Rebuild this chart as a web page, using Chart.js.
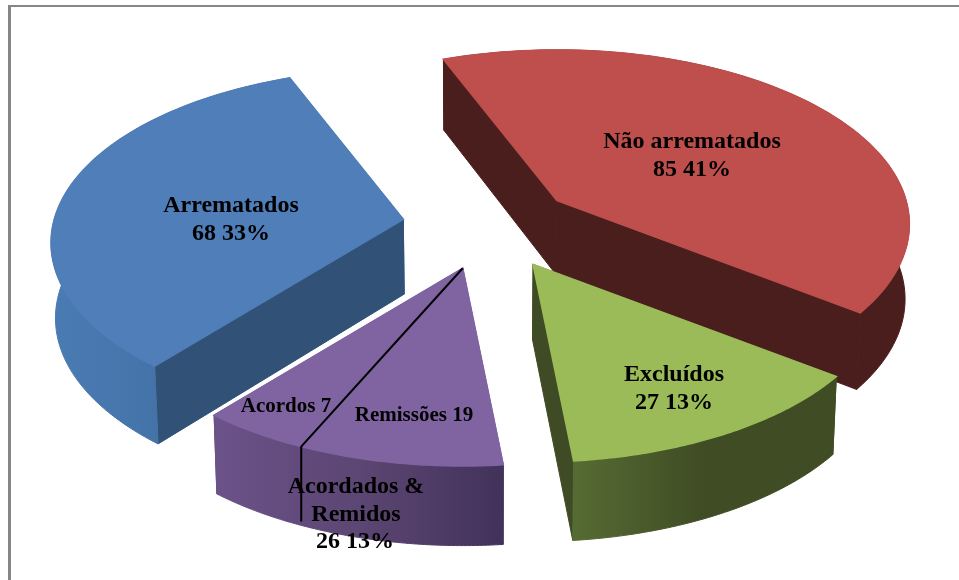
<!DOCTYPE html>
<html>
<head>
<meta charset="utf-8">
<style>
  html, body { margin: 0; padding: 0; background: #fff; }
  canvas { display: block; }
</style>
<script src="https://cdn.jsdelivr.net/npm/chart.js@4/dist/chart.umd.min.js"></script>
</head>
<body>
<canvas id="pieChart" width="959" height="580"></canvas>
<script>
// Data
const categories = ["Não arrematados", "Excluídos", "Acordados & Remidos", "Arrematados"];
const seriesValues = [85, 27, 26, 68];
const subCategories = ["Remissões", "Acordos"];
const subValues = [19, 7];

const topColors = ["#BE4F4C", "#9BBB59", "#8064A2", "#4F7EB9"];
const edgeColors = ["#4B1E1E", "#3E4B24", "#59446F", "#315276"];
// outer wall gradient, left to right
const wallStops = [
  ["#4B1E1E", "#4B1E1E"],
  ["#566B33", "#3F4C24", "#3F4C24"],
  ["#6B5289", "#5C4673", "#42325A"],
  ["#4A7BB3", "#3D699B"],
];
const drawOrder = [0, 3, 1, 2];

// 3D look of the pie
const radiusPx = 349;
const tilt = 171;
const perspective = 0.135;
const explode = 0.25;
const depth = 75;
// the split line in the picture is hand drawn, a bit off the exact share
const splitShift = (-3.5 * Math.PI) / 180;

function apexOf(arc) {
  const mid = (arc.startAngle + arc.endAngle) / 2 + Math.PI / 2;
  const u = explode * Math.cos(mid);
  const v = explode * Math.sin(mid);
  const w = 1 + perspective * u;
  return { x: arc.x + (radiusPx * v) / w, y: arc.y - (tilt * u) / w, u };
}

// point on the top face, theta in chart.js angle
function topPoint(arc, r, theta) {
  const apex = apexOf(arc);
  const a = theta + Math.PI / 2;
  const u = r * Math.cos(a);
  const v = r * Math.sin(a);
  const w = 1 + perspective * u;
  return { x: apex.x + (radiusPx * v) / w, y: apex.y - (tilt * u) / w, u: apex.u + u };
}

// same point pushed down to the bottom face
function bottomPoint(arc, p) {
  return {
    x: arc.x + (p.x - arc.x) * 0.99,
    y: p.y + depth * (1 - 0.05 * p.u),
    u: p.u,
  };
}

function arcPoints(arc) {
  const pts = [];
  const steps = 80;
  for (let i = 0; i <= steps; i++) {
    pts.push(topPoint(arc, 1, arc.startAngle + ((arc.endAngle - arc.startAngle) * i) / steps));
  }
  return pts;
}

// the thin stroke hides seams and dark fringes between the pieces
function fillPoly(ctx, pts, fill, seal) {
  ctx.beginPath();
  pts.forEach((p, i) => (i ? ctx.lineTo(p.x, p.y) : ctx.moveTo(p.x, p.y)));
  ctx.closePath();
  ctx.fillStyle = fill;
  ctx.fill();
  ctx.strokeStyle = fill;
  ctx.lineWidth = seal;
  ctx.stroke();
}

function drawSlice(ctx, arc, i) {
  const rim = arcPoints(arc);
  const apex = topPoint(arc, 0, arc.startAngle);
  const apexLow = bottomPoint(arc, apex);
  const rimLow = rim.map((p) => bottomPoint(arc, p));

  // straight walls
  [0, rim.length - 1].forEach((k) => {
    fillPoly(ctx, [apex, rim[k], rimLow[k], apexLow], edgeColors[i], 1);
  });

  // curved wall
  const xs = rim.map((p) => p.x);
  const grad = ctx.createLinearGradient(Math.min(...xs), 0, Math.max(...xs), 0);
  wallStops[i].forEach((c, n) => grad.addColorStop(n / (wallStops[i].length - 1), c));
  fillPoly(ctx, rim.concat(rimLow.slice().reverse()), grad, 1);

  // top face
  fillPoly(ctx, [apex].concat(rim), topColors[i], 1.6);
}

// line that splits the purple slice into the two sub values
function drawSplit(ctx, arc) {
  const total = subValues[0] + subValues[1];
  const angle = arc.startAngle + ((arc.endAngle - arc.startAngle) * subValues[0]) / total + splitShift;
  const apex = topPoint(arc, 0, angle);
  const rim = topPoint(arc, 1, angle);
  ctx.beginPath();
  ctx.moveTo(apex.x, apex.y);
  ctx.lineTo(rim.x, rim.y);
  ctx.lineTo(rim.x, rim.y + depth);
  ctx.strokeStyle = "#000";
  ctx.lineWidth = 2;
  ctx.stroke();
}

function drawLabels(ctx) {
  const total = seriesValues.reduce((a, b) => a + b, 0);
  const valueText = (i) => `${seriesValues[i]} ${Math.round((seriesValues[i] / total) * 100)}%`;
  ctx.fillStyle = "#000";
  ctx.textAlign = "center";
  ctx.textBaseline = "middle";
  ctx.font = 'bold 24px "Liberation Serif"';
  ctx.fillText(categories[0], 692, 142);
  ctx.fillText(valueText(0), 692, 170);
  ctx.fillText(categories[1], 674, 375);
  ctx.fillText(valueText(1), 674, 403);
  ctx.fillText(categories[3], 231, 206);
  ctx.fillText(valueText(3), 231, 234);
  ctx.fillText("Acordados &", 356, 487);
  ctx.fillText("Remidos", 356, 515);
  ctx.fillText(valueText(2), 355, 542);
  ctx.font = 'bold 21px "Liberation Serif"';
  ctx.fillText(`${subCategories[1]} ${subValues[1]}`, 286, 407);
  ctx.fillText(`${subCategories[0]} ${subValues[0]}`, 414, 416);
}

const pie3d = {
  id: "pie3d",
  beforeDatasetDraw(chart) {
    const ctx = chart.ctx;
    const arcs = chart.getDatasetMeta(0).data;
    ctx.save();
    // chart frame, only top and left fall inside the picture
    ctx.fillStyle = "#868686";
    ctx.fillRect(8, 5, 951, 2);
    ctx.fillRect(8, 5, 3, 575);
    drawOrder.forEach((i) => drawSlice(ctx, arcs[i], i));
    drawSplit(ctx, arcs[2]);
    drawLabels(ctx);
    ctx.restore();
    return false;
  },
};

const pieCtx = document.getElementById("pieChart").getContext("2d");
const pieChart = new Chart(pieCtx, {
  type: "pie",
  data: {
    labels: categories,
    datasets: [{ data: seriesValues, backgroundColor: topColors, radius: radiusPx }],
  },
  options: {
    responsive: false,
    animation: false,
    rotation: -21.5,
    layout: { padding: { left: 19, bottom: 128 } },
    plugins: { legend: { display: false }, tooltip: { enabled: false } },
  },
  plugins: [pie3d],
});
</script>
</body>
</html>
